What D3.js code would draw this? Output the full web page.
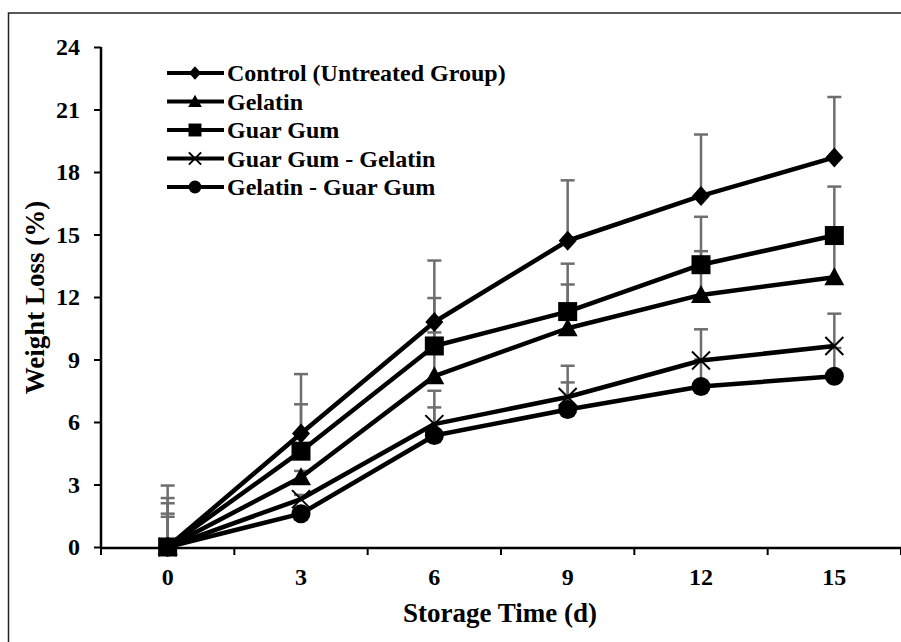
<!DOCTYPE html>
<html>
<head>
<meta charset="utf-8">
<script src="https://cdn.jsdelivr.net/npm/d3@7"></script>
<style>
  html, body { margin: 0; padding: 0; background: #fff; }
  svg { display: block; }
  text { font-family: "Liberation Serif", "Times New Roman", serif; font-weight: bold; fill: #000; }
</style>
</head>
<body>
<svg id="chart" width="901" height="642"></svg>
<script>
// data
const days = ["0", "3", "6", "9", "12", "15"];
const yTicks = [0, 3, 6, 9, 12, 15, 18, 21, 24];

const seriesNames = [
  "Control (Untreated Group)",
  "Gelatin",
  "Guar Gum",
  "Guar Gum - Gelatin",
  "Gelatin - Guar Gum"
];
const seriesMarkers = ["diamond", "triangle", "square", "cross", "circle"];

const controlVals = [0, 5.45, 10.8, 14.7, 16.85, 18.7];
const gelatinVals = [0, 3.35, 8.2, 10.5, 12.1, 12.95];
const guarVals = [0, 4.6, 9.65, 11.3, 13.55, 14.95];
const guarGelVals = [0, 2.3, 5.9, 7.2, 8.95, 9.65];
const gelGuarVals = [0, 1.6, 5.35, 6.6, 7.7, 8.2];

// upper error (standard deviation)
const controlErr = [2.95, 2.85, 2.95, 2.9, 2.95, 2.9];
const gelatinErr = [2.1, 0.3, 2.1, 2.1, 2.1, 2.1];
const guarErr = [2.35, 2.25, 2.3, 2.3, 2.3, 2.35];
const guarGelErr = [1.6, 0.2, 1.6, 1.5, 1.5, 1.55];
const gelGuarErr = [1.45, 0.2, 1.35, 1.3, 1.3, 1.35];

const seriesVals = [controlVals, gelatinVals, guarVals, guarGelVals, gelGuarVals];
const seriesErr = [controlErr, gelatinErr, guarErr, guarGelErr, gelGuarErr];

// 1) setup
const svg = d3.select("#chart");
const plot = { left: 101, right: 901, top: 47, bottom: 548 };

// outer frame (cropped at right and bottom)
svg.append("rect")
  .attr("x", 8.5).attr("y", 13)
  .attr("width", 1200).attr("height", 1200)
  .attr("fill", "none")
  .attr("stroke", "#222")
  .attr("stroke-width", 1.5);

const x = d3.scaleBand().domain(days).range([plot.left, plot.right]).padding(0);
const cx = d => x(d) + x.bandwidth() / 2;
const y = d3.scaleLinear().domain([0, 24]).range([plot.bottom - 1, plot.top]);

// 2) axes
const xAxis = svg.append("g").attr("class", "x-axis");
xAxis.append("line")
  .attr("x1", plot.left).attr("x2", plot.right)
  .attr("y1", plot.bottom).attr("y2", plot.bottom)
  .attr("stroke", "#000").attr("stroke-width", 2.5);

const xBounds = days.map(d => x(d)).concat([x(days[days.length - 1]) + x.bandwidth()]);
xAxis.selectAll(".tick")
  .data(xBounds)
  .enter().append("line")
  .attr("x1", d => d).attr("x2", d => d)
  .attr("y1", plot.bottom).attr("y2", plot.bottom + 7)
  .attr("stroke", "#000").attr("stroke-width", 2);

xAxis.selectAll(".lbl")
  .data(days)
  .enter().append("text")
  .attr("x", d => cx(d))
  .attr("y", 585)
  .attr("text-anchor", "middle")
  .attr("font-size", 24)
  .text(d => d);

const yAxis = svg.append("g")
  .attr("transform", `translate(${plot.left},0)`)
  .call(d3.axisLeft(y).tickValues(yTicks).tickSize(7).tickPadding(14));
yAxis.select(".domain").attr("stroke", "#000").attr("stroke-width", 2.5)
  .attr("d", `M0,${plot.top}V${plot.bottom}`);
yAxis.selectAll(".tick line").attr("stroke", "#000").attr("stroke-width", 2);
yAxis.selectAll(".tick text")
  .attr("font-size", 24)
  .attr("font-family", "Liberation Serif, Times New Roman, serif")
  .attr("font-weight", "bold")
  .attr("fill", "#000");

// axis titles
svg.append("text")
  .attr("x", 500).attr("y", 622)
  .attr("text-anchor", "middle")
  .attr("font-size", 27)
  .text("Storage Time (d)");

svg.append("text")
  .attr("transform", `translate(44,${(plot.top + plot.bottom) / 2}) rotate(-90)`)
  .attr("text-anchor", "middle")
  .attr("font-size", 27)
  .text("Weight Loss (%)");

// 3) markers
function drawMarker(g, type, px, py, s) {
  if (type === "diamond") {
    g.append("path")
      .attr("d", `M${px},${py - 10 * s}L${px + 9 * s},${py}L${px},${py + 10 * s}L${px - 9 * s},${py}Z`)
      .attr("fill", "#000");
  } else if (type === "square") {
    g.append("rect")
      .attr("x", px - 9.5 * s).attr("y", py - 9.5 * s)
      .attr("width", 19 * s).attr("height", 19 * s)
      .attr("fill", "#000");
  } else if (type === "triangle") {
    g.append("path")
      .attr("d", `M${px},${py - 10 * s}L${px + 10 * s},${py + 8 * s}L${px - 10 * s},${py + 8 * s}Z`)
      .attr("fill", "#000");
  } else if (type === "circle") {
    g.append("circle")
      .attr("cx", px).attr("cy", py).attr("r", 9.5 * s)
      .attr("fill", "#000");
  } else if (type === "cross") {
    g.append("path")
      .attr("d", `M${px - 9 * s},${py - 9 * s}L${px + 9 * s},${py + 9 * s}M${px - 9 * s},${py + 9 * s}L${px + 9 * s},${py - 9 * s}`)
      .attr("stroke", "#000").attr("stroke-width", 2).attr("fill", "none");
  }
}

// 4) error bars (behind lines)
const errLayer = svg.append("g").attr("class", "errors");
seriesVals.forEach((vals, si) => {
  vals.forEach((v, i) => {
    const top = y(v + seriesErr[si][i]);
    const px = cx(days[i]);
    errLayer.append("line")
      .attr("x1", px).attr("x2", px)
      .attr("y1", y(v)).attr("y2", top)
      .attr("stroke", "#6e6e6e").attr("stroke-width", 2.5);
    errLayer.append("line")
      .attr("x1", px - 7).attr("x2", px + 7)
      .attr("y1", top).attr("y2", top)
      .attr("stroke", "#6e6e6e").attr("stroke-width", 2.5);
  });
});

// 5) series lines + markers
const line = d3.line().x((d, i) => cx(days[i])).y(d => y(d));
const seriesLayer = svg.append("g").attr("class", "series");
seriesVals.forEach((vals, si) => {
  seriesLayer.append("path")
    .datum(vals)
    .attr("d", line)
    .attr("fill", "none")
    .attr("stroke", "#000")
    .attr("stroke-width", 4.5)
    .attr("stroke-linejoin", "round");
});
seriesVals.forEach((vals, si) => {
  const g = seriesLayer.append("g");
  vals.forEach((v, i) => drawMarker(g, seriesMarkers[si], cx(days[i]), y(v), 1));
});

// 6) legend
const legend = svg.append("g").attr("class", "legend");
const legendY = [73, 101.5, 130, 158.5, 187];
seriesNames.forEach((name, si) => {
  const ly = legendY[si];
  legend.append("line")
    .attr("x1", 167).attr("x2", 224)
    .attr("y1", ly).attr("y2", ly)
    .attr("stroke", "#000").attr("stroke-width", 4);
  drawMarker(legend, seriesMarkers[si], 195, ly, 0.68);
  legend.append("text")
    .attr("x", 227).attr("y", ly + 8)
    .attr("font-size", 24)
    .text(name);
});
</script>
</body>
</html>
